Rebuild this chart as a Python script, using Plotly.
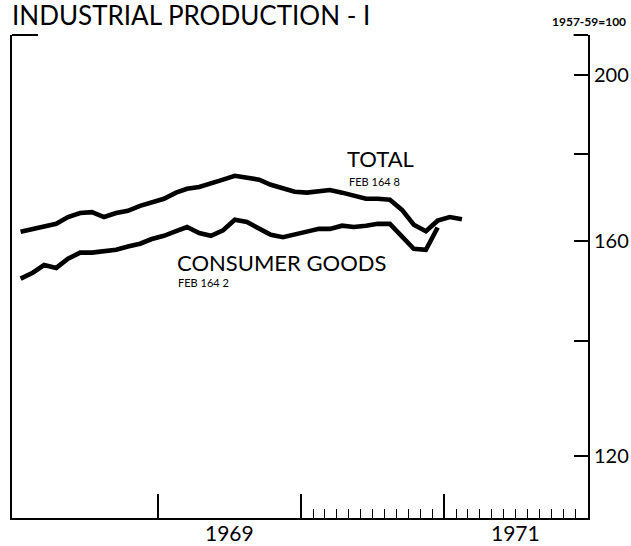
import math
import plotly.graph_objects as go

# Monthly data, Jan 1968 .. Feb 1971 (index 1957-59 = 100)
months_total = [f"{1968 + i // 12}-{i % 12 + 1:02d}-15" for i in range(38)]
total = [162.1, 162.7, 163.4, 163.8, 165.3, 166.2, 166.4, 165.3, 166.2, 166.7,
         167.8, 168.7, 169.4, 170.8, 171.7, 172.1, 172.8, 173.8, 174.7, 174.3,
         173.8, 172.6, 171.7, 171.0, 170.8, 171.0, 171.4, 170.8, 170.0, 169.4,
         169.4, 169.2, 166.9, 163.6, 162.2, 164.5, 165.3, 164.8]
months_consumer = months_total[:36]
consumer = [152.2, 153.4, 155.0, 154.4, 156.3, 157.6, 157.6, 157.8, 158.2, 158.9,
            159.5, 160.5, 161.2, 162.2, 163.1, 161.8, 161.2, 162.4, 164.7, 164.2,
            162.7, 161.4, 160.9, 161.4, 162.1, 162.7, 162.7, 163.4, 163.1, 163.4,
            163.8, 163.8, 161.2, 158.4, 158.2, 163.0]

y_tickvals = [120, 140, 160, 180, 200]
y_ticktext = ["120", "", "160", "", "200"]
year_label_pos = ["1969-07-01", "1971-07-01"]
year_labels = ["1969", "1971"]
major_ticks = ["1969-01-01", "1970-01-01", "1971-01-01"]
minor_ticks = [f"{y}-{m:02d}-01" for y in (1970, 1971) for m in range(2, 13)]

FONT = "Lato"
L = math.log10

fig = go.Figure()
fig.add_trace(go.Scatter(x=months_total, y=total, mode="lines",
                         line=dict(color="black", width=4.6), showlegend=False))
fig.add_trace(go.Scatter(x=months_consumer, y=consumer, mode="lines",
                         line=dict(color="black", width=4.6), showlegend=False))

annotations = [
    dict(text="INDUSTRIAL PRODUCTION - I", xref="paper", yref="paper",
         x=-0.003, y=1.041, xanchor="left", yanchor="middle", showarrow=False,
         font=dict(size=26, family=FONT)),
    dict(text="<b>1957-59=100</b>", xref="paper", yref="paper",
         x=1.069, y=1.027, xanchor="right", yanchor="middle", showarrow=False,
         font=dict(size=12, family=FONT)),
    dict(text="TOTAL", x="1970-04-22", y=L(178.9), xanchor="left", yanchor="middle",
         showarrow=False, font=dict(size=22, family=FONT)),
    dict(text="FEB 164 8", x="1970-04-28", y=L(173.3), xanchor="left", yanchor="middle",
         showarrow=False, font=dict(size=11, family=FONT)),
    dict(text="CONSUMER GOODS", x="1969-02-13", y=L(155.6), xanchor="left",
         yanchor="middle", showarrow=False, font=dict(size=22, family=FONT)),
    dict(text="FEB 164 2", x="1969-02-15", y=L(151.5), xanchor="left",
         yanchor="middle", showarrow=False, font=dict(size=11, family=FONT)),
]
for pos, lab in zip(year_label_pos, year_labels):
    annotations.append(dict(text=lab, x=pos, xref="x", yref="paper", y=-0.029,
                            xanchor="center", yanchor="middle", showarrow=False,
                            font=dict(size=21, family=FONT)))

fig.update_layout(
    width=631, height=546,
    margin=dict(l=12, r=43, t=35, b=28, autoexpand=False),
    paper_bgcolor="white", plot_bgcolor="white",
    font=dict(family=FONT, color="black"),
    xaxis=dict(
        type="date", range=["1967-12-24", "1972-01-03"], automargin=False,
        showgrid=False, zeroline=False,
        showline=True, linecolor="black", linewidth=2,
        tickmode="array", tickvals=major_ticks, ticktext=["", "", ""],
        ticks="inside", ticklen=24, tickwidth=1.5, tickcolor="black",
        minor=dict(tickmode="array", tickvals=minor_ticks, ticks="inside",
                   ticklen=9, tickwidth=1.2, tickcolor="black", showgrid=False),
    ),
    yaxis=dict(
        type="log", side="right", automargin=False,
        range=[2.0430, 2.3243],
        showgrid=False, zeroline=False,
        showline=True, mirror=True, linecolor="black", linewidth=2,
        tickmode="array", tickvals=y_tickvals, ticktext=y_ticktext,
        ticks="inside", ticklen=14, tickwidth=1.5, tickcolor="black",
        tickfont=dict(size=20, family=FONT),
    ),
    shapes=[
        dict(type="line", xref="paper", yref="paper", x0=0, x1=0.045, y0=1, y1=1,
             line=dict(color="black", width=2)),
        dict(type="line", xref="paper", yref="paper", x0=0.975, x1=1, y0=1, y1=1,
             line=dict(color="black", width=2)),
    ],
    annotations=annotations,
)
fig.write_html("out.html", config={"displayModeBar": False},
               post_script="document.body.style.margin='0px';document.body.style.overflow='hidden';")
